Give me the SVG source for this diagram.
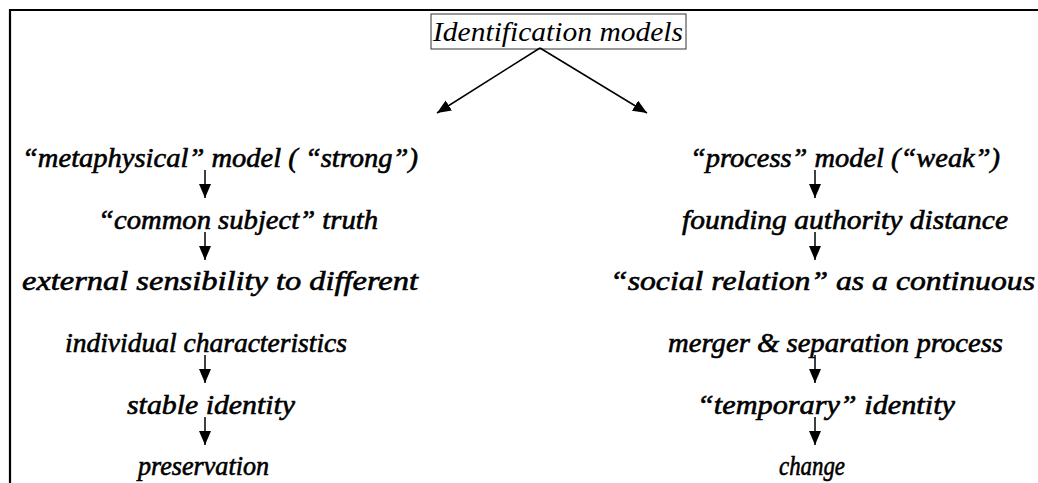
<svg xmlns="http://www.w3.org/2000/svg" width="1038" height="483" viewBox="0 0 1038 483">
<style>
.t{font-family:"Liberation Serif","DejaVu Serif",serif;font-style:italic;font-weight:normal;font-size:27px;fill:#000;stroke:#000;stroke-width:0.6}
.title{font-family:"Liberation Serif","DejaVu Serif",serif;font-style:italic;font-size:27px;fill:#000}
.c{stroke:#000;stroke-width:1.5;fill:none;marker-end:url(#ah)}
</style>
<defs>
<marker id="ah" markerUnits="userSpaceOnUse" markerWidth="14" markerHeight="14" refX="14" refY="6" orient="auto">
<path d="M0,0 L14,6 L0,12 z" fill="#000"/>
</marker>
</defs>
<rect width="1038" height="483" fill="#fff"/>
<path d="M10,483 V10 H1038" stroke="#000" stroke-width="2.2" fill="none"/>
<g id="title">
<rect x="431" y="14" width="255" height="35" fill="#fff" stroke="#333" stroke-width="1"/>
<text class="title" x="433" y="41" textLength="250" lengthAdjust="spacingAndGlyphs">Identification models</text>
</g>
<g id="connectors">
<line class="c" x1="540" y1="48" x2="437" y2="113"/>
<line class="c" x1="540" y1="48" x2="647" y2="113"/>
<line class="c" x1="205" y1="170" x2="205" y2="198"/>
<line class="c" x1="205" y1="232" x2="205" y2="260"/>
<line class="c" x1="205" y1="355" x2="205" y2="383"/>
<line class="c" x1="205" y1="417" x2="205" y2="445"/>
<line class="c" x1="815" y1="170" x2="815" y2="198"/>
<line class="c" x1="815" y1="232" x2="815" y2="260"/>
<line class="c" x1="815" y1="355" x2="815" y2="383"/>
<line class="c" x1="815" y1="417" x2="815" y2="445"/>
</g>
<g id="left-metaphysical"><text class="t" x="22" y="167" textLength="396" lengthAdjust="spacingAndGlyphs">“metaphysical” model ( “strong”)</text></g>
<g id="left-common"><text class="t" x="98" y="229" textLength="280" lengthAdjust="spacingAndGlyphs">“common subject” truth</text></g>
<g id="left-external"><text class="t" x="22" y="290" textLength="396" lengthAdjust="spacingAndGlyphs">external sensibility to different</text></g>
<g id="left-individual"><text class="t" x="65" y="352" textLength="282" lengthAdjust="spacingAndGlyphs">individual characteristics</text></g>
<g id="left-stable"><text class="t" x="127" y="414" textLength="168" lengthAdjust="spacingAndGlyphs">stable identity</text></g>
<g id="left-preservation"><text class="t" x="138" y="475" textLength="131" lengthAdjust="spacingAndGlyphs">preservation</text></g>
<g id="right-process"><text class="t" x="690" y="167" textLength="310" lengthAdjust="spacingAndGlyphs">“process” model (“weak”)</text></g>
<g id="right-founding"><text class="t" x="682" y="229" textLength="326" lengthAdjust="spacingAndGlyphs">founding authority distance</text></g>
<g id="right-social"><text class="t" x="610" y="290" textLength="425" lengthAdjust="spacingAndGlyphs">“social relation” as a continuous</text></g>
<g id="right-merger"><text class="t" x="668" y="352" textLength="335" lengthAdjust="spacingAndGlyphs">merger &amp; separation process</text></g>
<g id="right-temporary"><text class="t" x="697" y="414" textLength="258" lengthAdjust="spacingAndGlyphs">“temporary” identity</text></g>
<g id="right-change"><text class="t" x="779" y="475" textLength="66" lengthAdjust="spacingAndGlyphs">change</text></g>
</svg>
